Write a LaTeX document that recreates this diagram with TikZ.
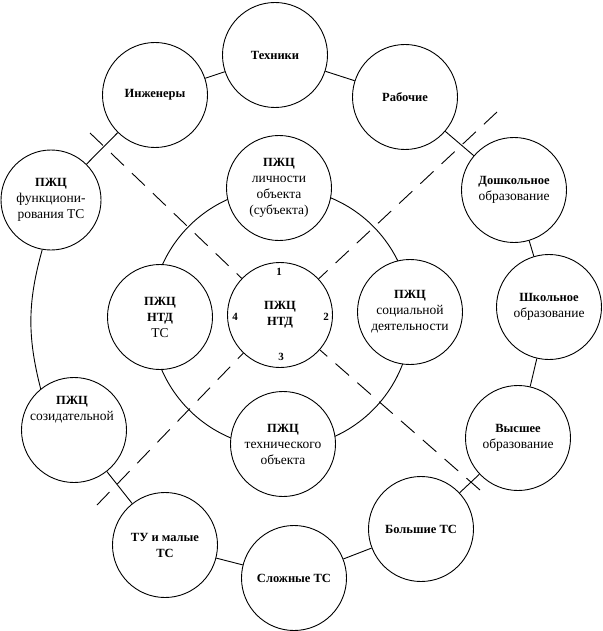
\documentclass[tikz,border=0pt]{standalone}
\usepackage{fontspec}
\setmainfont{Liberation Serif}
\usetikzlibrary{backgrounds}
\newcommand{\hd}[1]{{\fontsize{12.5}{16}\selectfont\bfseries #1}}
\begin{document}
\begin{tikzpicture}[x=1pt,y=-1pt,
  circ/.style={circle, draw, line width=0.9pt, fill=white, minimum size=105pt, inner sep=0pt, align=center,
    font=\fontsize{13.5}{16}\selectfont},
  txt/.style={align=center, inner sep=0pt, font=\fontsize{13.5}{16}\selectfont},
  num/.style={inner sep=0pt, font=\fontsize{11}{12}\selectfont\bfseries},
  conn/.style={line width=0.9pt},
  dashln/.style={line width=0.9pt, dash pattern=on 18pt off 11pt}
]
\useasboundingbox (0,0) rectangle (602,631);

% outer circles
\node[circ] (tech) at (275,55) {\hd{Техники}};
\node[circ] (eng) at (155,95) {\hd{Инженеры}};
\node[circ] (rab) at (405,97) {\hd{Рабочие}};
\node[circ, minimum size=100pt] (funk) at (51,200) {\hd{ПЖЦ}\\функциони-\\рования ТС};
\node[circ] (dosh) at (514,190) {\hd{Дошкольное}\\образование};
\node[circ] (shk) at (549,307) {\hd{Школьное}\\образование};
\node[circ] (vys) at (518,438) {\hd{Высшее}\\образование};
\node[circ] (bol) at (421,529) {\hd{Большие ТС}};
\node[circ] (slo) at (294,578) {\hd{Сложные ТС}};
\node[circ] (tu) at (165,545) {\hd{ТУ и малые}\\\hd{ТС}};
\node[circ] (soz) at (74,430) {};
\node[txt] (sozt) at (72,410) {\hd{ПЖЦ}\\созидательной};

% inner circles
\node[circ] (ntd) at (280,315) {\hd{ПЖЦ}\\\hd{НТД}};
\node[circ] (ntdts) at (160,317) {\hd{ПЖЦ}\\\hd{НТД}\\ТС};
\node[circ] (soc) at (410,312) {\hd{ПЖЦ}\\социальной\\деятельности};
\node[circ] (lich) at (279,188) {\hd{ПЖЦ}\\личности\\объекта\\(субъекта)};
\node[circ] (tob) at (283,444) {\hd{ПЖЦ}\\технического\\объекта};

% numbers in centre circle
\node[num] (n1) at (279,272) {1};
\node[num] (n2) at (326,317) {2};
\node[num] (n3) at (281,357) {3};
\node[num] (n4) at (235,317) {4};

% inner ring (behind the circles)
\coordinate (ringc) at (281,318);
\begin{pgfonlayer}{background}
\draw[conn] (ringc) circle (130);
\end{pgfonlayer}

% outer ring
\draw[conn] (eng) -- (tech);
\draw[conn] (tech) -- (rab);
\draw[conn] (rab) -- (dosh);
\draw[conn] (dosh) -- (shk);
\draw[conn] (shk) -- (vys);
\draw[conn] (vys) -- (bol);
\draw[conn] (bol) -- (slo);
\draw[conn] (slo) -- (tu);
\draw[conn] (tu) -- (soz);
\draw[conn] (funk.260) to[bend right=15] (soz.129);
\draw[conn] (funk) -- (eng);

% dashed diagonals
\coordinate (a1) at (90,133);
\coordinate (a2) at (480,490);
\coordinate (b1) at (497,112);
\coordinate (b2) at (97,505);
\draw[dashln] (a1) -- (ntd);
\draw[dashln] (a2) -- (ntd);
\draw[dashln] (b1) -- (ntd);
\draw[dashln] (b2) -- (ntd);
\end{tikzpicture}
\end{document}
